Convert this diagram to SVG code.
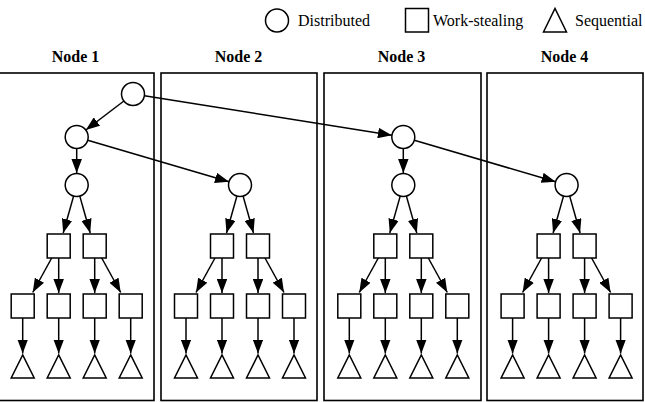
<svg xmlns="http://www.w3.org/2000/svg" width="645" height="402" viewBox="0 0 645 402">
<style>
.box{fill:none;stroke:#000;stroke-width:1.6}
.sh{fill:#fff;stroke:#000;stroke-width:1.5}
.e{fill:none;stroke:#000;stroke-width:1.5;marker-end:url(#ah)}
.lbl{font-family:"Liberation Serif","Times New Roman",serif;font-size:16px;font-weight:bold;text-anchor:middle;fill:#000}
.leg{font-family:"Liberation Serif","Times New Roman",serif;font-size:16px;fill:#000}
</style>
<defs>
<marker id="ah" markerUnits="userSpaceOnUse" markerWidth="14" markerHeight="10.5" refX="14" refY="5.25" orient="auto" viewBox="0 0 14 10.5">
<path d="M0,0 L14,5.25 L0,10.5 z" fill="#000"/>
</marker>
<g id="tmpl">
<circle class="sh" cx="0" cy="185" r="11.5"/>
<rect class="sh" x="-29.5" y="234" width="23" height="24"/>
<rect class="sh" x="6.5" y="234" width="23" height="24"/>
<rect class="sh" x="-65.5" y="294" width="23" height="24"/>
<rect class="sh" x="-29.5" y="294" width="23" height="24"/>
<rect class="sh" x="6.5" y="294" width="23" height="24"/>
<rect class="sh" x="42.5" y="294" width="23" height="24"/>
<polygon class="sh" points="-65.5,378 -42.5,378 -54,355"/>
<polygon class="sh" points="-29.5,378 -6.5,378 -18,355"/>
<polygon class="sh" points="6.5,378 29.5,378 18,355"/>
<polygon class="sh" points="42.5,378 65.5,378 54,355"/>
</g>
<g id="etmpl">
<line class="e" x1="-3.1" y1="196.1" x2="-13.5" y2="233"/>
<line class="e" x1="3.1" y1="196.1" x2="13.5" y2="233"/>
<line class="e" x1="-25" y1="258" x2="-44" y2="292.5"/>
<line class="e" x1="-18" y1="258" x2="-18" y2="293"/>
<line class="e" x1="18" y1="258" x2="18" y2="293"/>
<line class="e" x1="25" y1="258" x2="44" y2="292.5"/>
<line class="e" x1="-54" y1="318" x2="-54" y2="353.5"/>
<line class="e" x1="-18" y1="318" x2="-18" y2="353.5"/>
<line class="e" x1="18" y1="318" x2="18" y2="353.5"/>
<line class="e" x1="54" y1="318" x2="54" y2="353.5"/>
</g>
</defs>
<g id="legend">
<circle class="sh" cx="277" cy="20.5" r="11.5"/>
<text class="leg" x="298" y="26">Distributed</text>
<rect class="sh" x="405.5" y="8.5" width="23" height="23.5"/>
<text class="leg" x="433" y="26">Work-stealing</text>
<polygon class="sh" points="543.5,32 566.5,32 555,8.5"/>
<text class="leg" x="575" y="26">Sequential</text>
</g>
<g id="node1">
<rect class="box" x="-2" y="73" width="156" height="327.5"/>
<text class="lbl" x="75.5" y="62">Node 1</text>
<circle class="sh" cx="133" cy="94" r="11.5"/>
<circle class="sh" cx="76.7" cy="137" r="11.5"/>
<use href="#tmpl" transform="translate(76.7,0)"/>
</g>
<g id="node2">
<rect class="box" x="161" y="73" width="156" height="327.5"/>
<text class="lbl" x="238.5" y="62">Node 2</text>
<use href="#tmpl" transform="translate(240,0)"/>
</g>
<g id="node3">
<rect class="box" x="324" y="73" width="157" height="327.5"/>
<text class="lbl" x="401.5" y="62">Node 3</text>
<circle class="sh" cx="403.3" cy="137" r="11.5"/>
<use href="#tmpl" transform="translate(403.3,0)"/>
</g>
<g id="node4">
<rect class="box" x="487" y="73" width="156" height="327.5"/>
<text class="lbl" x="564.5" y="62">Node 4</text>
<use href="#tmpl" transform="translate(566.6,0)"/>
</g>
<g id="connectors">
<line class="e" x1="123.9" y1="101" x2="85.8" y2="130"/>
<line class="e" x1="144.4" y1="95.8" x2="391.9" y2="135.2"/>
<line class="e" x1="76.7" y1="148.5" x2="76.7" y2="173"/>
<line class="e" x1="87.7" y1="140.2" x2="229" y2="181.8"/>
<line class="e" x1="403.3" y1="148.5" x2="403.3" y2="173"/>
<line class="e" x1="414.3" y1="140.2" x2="555.6" y2="181.8"/>
<use href="#etmpl" transform="translate(76.7,0)"/>
<use href="#etmpl" transform="translate(240,0)"/>
<use href="#etmpl" transform="translate(403.3,0)"/>
<use href="#etmpl" transform="translate(566.6,0)"/>
</g>
</svg>
